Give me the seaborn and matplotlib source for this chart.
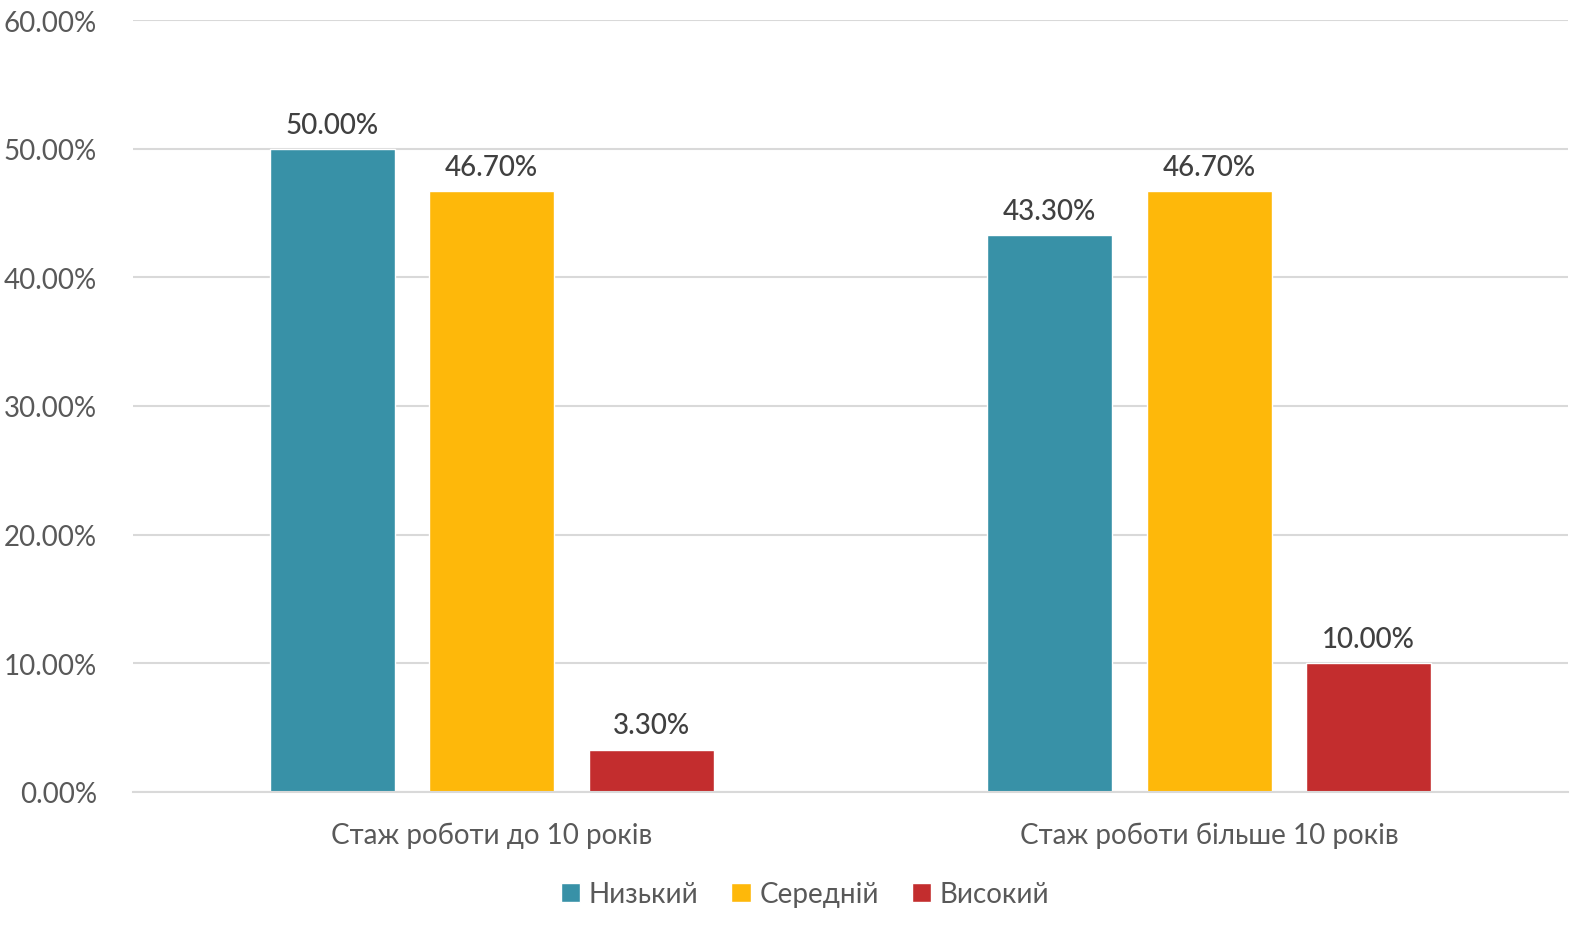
import matplotlib
matplotlib.use("Agg")
import matplotlib.pyplot as plt
import seaborn as sns
import pandas as pd
from matplotlib.patches import Patch
from matplotlib.ticker import FuncFormatter

categories = ["Стаж роботи до 10 років", "Стаж роботи більше 10 років"]
levels = ["Низький", "Середній", "Високий"]
low_vals = [50.0, 43.3]
mid_vals = [46.7, 46.7]
high_vals = [3.3, 10.0]
colors = ["#3891A7", "#FEB80A", "#C32D2E"]
yticks = [0, 10, 20, 30, 40, 50, 60]

rows = []
for lvl, vals in zip(levels, [low_vals, mid_vals, high_vals]):
    for c, v in zip(categories, vals):
        rows.append({"cat": c, "level": lvl, "val": v})
df = pd.DataFrame(rows)

sns.set_theme(style="white")
plt.rcParams["font.family"] = ["Lato", "DejaVu Sans"]

fig = plt.figure(figsize=(15.95, 9.29), dpi=100)
ax = fig.add_axes([133/1595, 1-793/929, (1568-133)/1595, (793-21)/929])

sns.barplot(data=df, x="cat", y="val", hue="level", order=categories,
            hue_order=levels, palette=colors, width=0.667, gap=0.216,
            ax=ax, legend=False, saturation=1, errorbar=None)

ax.set_ylim(0, 60)
ax.set_xlim(-0.5, 1.5)
ax.set_yticks(yticks)
ax.yaxis.set_major_formatter(FuncFormatter(lambda v, p: f"{v:.2f}%"))
ax.grid(axis="y", color="#D9D9D9", linewidth=1.5)
ax.set_axisbelow(True)
for s in ["top", "right", "left"]:
    ax.spines[s].set_visible(False)
ax.spines["bottom"].set_color("#D9D9D9")
ax.spines["bottom"].set_linewidth(1.5)
ax.tick_params(axis="y", length=0, pad=26, labelsize=20, labelcolor="#595959")
ax.tick_params(axis="x", length=0, pad=21, labelsize=20, labelcolor="#595959")
ax.set_xlabel("")
ax.set_ylabel("")

for cont in ax.containers:
    ax.bar_label(cont, labels=[f"{b.get_height():.2f}%" for b in cont],
                 padding=8, fontsize=20, color="#404040", fontweight="medium")

handles = [Patch(facecolor=c, label=l) for c, l in zip(colors, levels)]
fig.legend(handles=handles, loc="center", bbox_to_anchor=(805/1595, 1-895/929),
           ncol=3, frameon=False, fontsize=20, handlelength=0.7, handleheight=0.7,
           handletextpad=0.3, columnspacing=1.2, labelcolor="#595959")

fig.savefig("out.png", dpi=100, facecolor="white")
